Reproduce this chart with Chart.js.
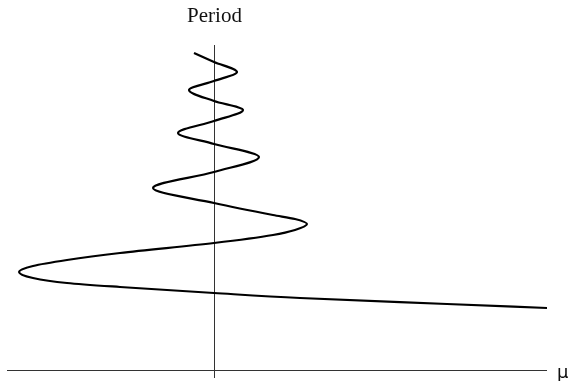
<!DOCTYPE html>
<html>
<head>
<meta charset="utf-8">
<script src="https://cdn.jsdelivr.net/npm/chart.js@4.4.0/dist/chart.umd.min.js"></script>
<style>
  html, body { margin: 0; padding: 0; background: #fff; }
  #wrap { width: 569px; height: 381px; }
</style>
</head>
<body>
<div id="wrap"><canvas id="periodChart" width="569" height="381"></canvas></div>
<script>
// period curve sampled along mu: axis crossings and turning points
const muValues = [
  -0.20, 0.00, 0.23, 0.00, -0.25, 0.00, 0.29, 0.00, -0.36, 0.00,
  0.45, 0.00, -0.61, 0.00, 0.59, 0.81, 0.93, 0.81, 0.59, 0.00,
  -0.94, -1.47, -1.81, -1.95, -1.81, -1.47, -0.94, 0.00, 0.86, 2.33,
  3.33
];
const periodValues = [
  3.17, 3.08, 2.98, 2.89, 2.80, 2.69, 2.60, 2.49, 2.37, 2.26,
  2.13, 1.98, 1.82, 1.67, 1.55, 1.51, 1.46, 1.40, 1.35, 1.27,
  1.17, 1.10, 1.04, 0.98, 0.92, 0.87, 0.83, 0.77, 0.72, 0.66,
  0.62
];
const xLabel = 'μ';
const yLabel = 'Period';

const points = muValues.map((m, i) => ({ x: m, y: periodValues[i] }));

// axes through the origin plus their labels
const crossAxes = {
    id: 'crossAxes',
    beforeDatasetsDraw(chart) {
        const { ctx, chartArea, scales } = chart;
        const x0 = Math.round(scales.x.getPixelForValue(0)) + 0.5;
        const y0 = Math.round(scales.y.getPixelForValue(0)) + 0.5;
        ctx.save();
        ctx.strokeStyle = '#333';
        ctx.lineWidth = 1;
        ctx.beginPath();
        ctx.moveTo(chartArea.left, y0);
        ctx.lineTo(chartArea.right, y0);
        ctx.moveTo(x0, chartArea.top);
        ctx.lineTo(x0, chartArea.bottom);
        ctx.stroke();

        ctx.fillStyle = '#111';
        ctx.textBaseline = 'alphabetic';
        ctx.font = '21px "Liberation Serif"';
        ctx.textAlign = 'center';
        ctx.fillText(yLabel, x0, 22);
        ctx.font = '18px "DejaVu Sans"';
        ctx.textAlign = 'left';
        ctx.fillText(xLabel, chartArea.right + 10, y0 + 7);
        ctx.restore();
    }
};

new Chart(document.getElementById('periodChart'), {
    type: 'scatter',
    data: {
        datasets: [{
            data: points,
            showLine: true,
            borderColor: '#000',
            borderWidth: 2.2,
            pointRadius: 0,
            // mu is a single-valued function of the period, so interpolate along y
            cubicInterpolationMode: 'monotone',
            indexAxis: 'y',
            fill: false
        }]
    },
    options: {
        indexAxis: 'y',
        responsive: false,
        animation: false,
        layout: { padding: { left: 7, right: 22, top: 45, bottom: 3 } },
        plugins: { legend: { display: false }, tooltip: { enabled: false } },
        scales: {
            x: { type: 'linear', min: -2.07, max: 3.33, display: false },
            y: { type: 'linear', min: -0.08, max: 3.25, display: false }
        }
    },
    plugins: [crossAxes]
});
</script>
</body>
</html>
